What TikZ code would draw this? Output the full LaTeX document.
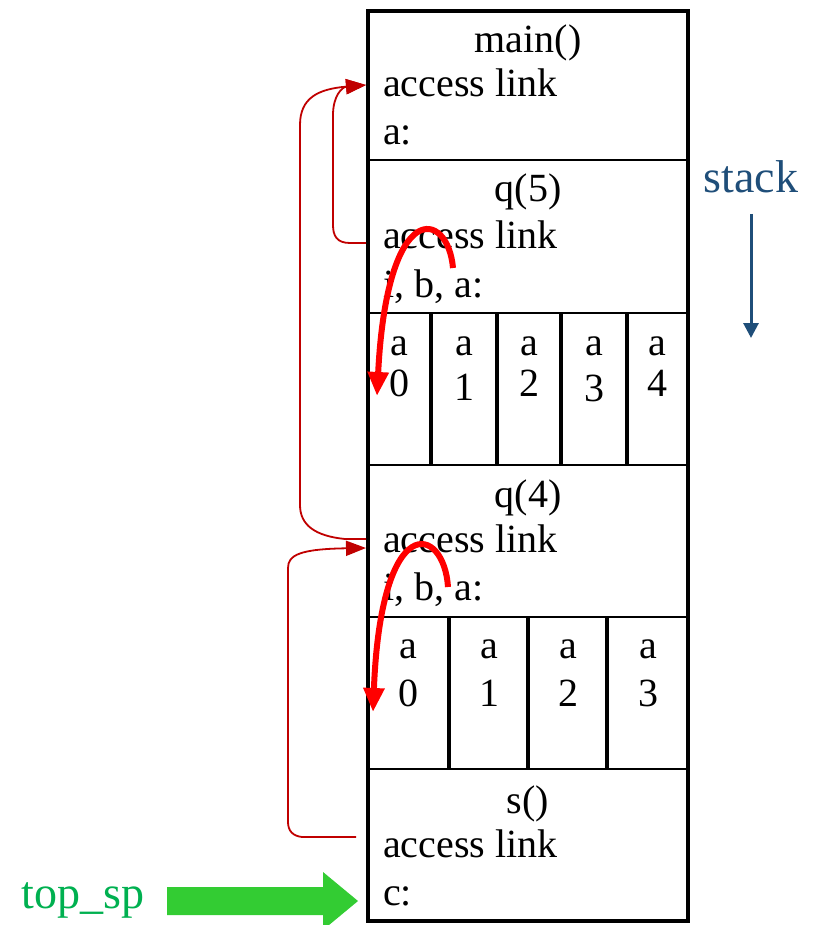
\documentclass[tikz,border=0pt]{standalone}
\usepackage{fontspec}
\setmainfont{Liberation Serif}
\usetikzlibrary{arrows.meta}
\definecolor{linkred}{RGB}{192,0,0}
\definecolor{hotred}{RGB}{255,0,0}
\definecolor{stackblue}{RGB}{31,78,121}
\definecolor{spgreen}{RGB}{0,176,80}
\definecolor{arrowgreen}{RGB}{51,204,51}
\begin{document}
\begin{tikzpicture}[x=1pt,y=-1pt,
  ltxt/.style={font=\fontsize{40}{40}\selectfont, inner sep=0pt, anchor=base west},
  ctxt/.style={font=\fontsize{40}{40}\selectfont, inner sep=0pt, anchor=base},
  frameline/.style={line width=4pt},
  rowline/.style={line width=2.5pt},
  cellline/.style={line width=4pt},
  linkarrow/.style={draw=linkred, line width=1.8pt,
    -{Triangle[length=20pt,width=15pt]}},
  bigred/.style={draw=hotred, line width=6pt,
    -{Triangle[length=24pt,width=20pt]}},
]
\useasboundingbox (0,0) rectangle (815,925);

% frame and dividers
\draw[frameline] (368,11) rectangle (688,921);
\foreach \yy in {160,313,465,617,769} \draw[rowline] (368,\yy) -- (688,\yy);
\foreach \xx in {431,497,561,627} \draw[cellline] (\xx,313) -- (\xx,465);
\foreach \xx in {449,528,607} \draw[cellline] (\xx,617) -- (\xx,769);

% main()
\node[ctxt] (mainT) at (528,53) {main()};
\node[ltxt] (mainAL) at (383,97) {access link};
\node[ltxt] (mainA) at (383,145) {a:};
% q(5)
\node[ctxt] (q5T) at (528,202) {q(5)};
\node[ltxt] (q5AL) at (383,248) {access link};
\node[ltxt] (q5V) at (383,297) {i, b, a:};
% array of q(5)
\node[ctxt] (a50) at (399,355) {a};
\node[ctxt] (a51) at (464,355) {a};
\node[ctxt] (a52) at (529,355) {a};
\node[ctxt] (a53) at (594,355) {a};
\node[ctxt] (a54) at (657,355) {a};
\node[ctxt] (d50) at (399,396) {0};
\node[ctxt] (d51) at (464,400) {1};
\node[ctxt] (d52) at (529,396) {2};
\node[ctxt] (d53) at (594,401) {3};
\node[ctxt] (d54) at (657,396) {4};
% q(4)
\node[ctxt] (q4T) at (528,507) {q(4)};
\node[ltxt] (q4AL) at (383,552) {access link};
\node[ltxt] (q4V) at (383,600) {i, b, a:};
% array of q(4)
\node[ctxt] (a40) at (408,658) {a};
\node[ctxt] (a41) at (489,658) {a};
\node[ctxt] (a42) at (568,658) {a};
\node[ctxt] (a43) at (648,658) {a};
\node[ctxt] (d40) at (408,706) {0};
\node[ctxt] (d41) at (489,706) {1};
\node[ctxt] (d42) at (568,706) {2};
\node[ctxt] (d43) at (648,706) {3};
% s()
\node[ctxt] (sT) at (528,813) {s()};
\node[ltxt] (sAL) at (383,857) {access link};
\node[ltxt] (sC) at (383,905) {c:};

% access link anchor points
\coordinate (mainIn) at (366,85);
\coordinate (q5Out) at (366,243);
\coordinate (q4In) at (366,548);
\coordinate (q4Out) at (366,539);
\coordinate (sOut) at (356,837);

% access link arrows
\draw[linkarrow] (q5Out) -- (350,243) .. controls (337,243) and (333,236) .. (333,225)
  -- (333,115) .. controls (333,96) and (342,87) .. (mainIn);
\draw[linkarrow] (q4Out) -- (345,539) .. controls (315,536) and (300,525) .. (300,505)
  -- (300,125) .. controls (300,98) and (318,89) .. (mainIn);
\draw[linkarrow] (sOut) -- (302,837) .. controls (293,836) and (288,831) .. (288,822)
  -- (288,568) .. controls (288,555) and (300,549) .. (q4In);

% big red arrows
\coordinate (r5s) at (453,268);
\coordinate (r5e) at (377,396);
\coordinate (r4s) at (448,587);
\coordinate (r4e) at (373,712);
\draw[bigred] (r5s) .. controls (448,210) and (387,196) .. (r5e);
\draw[bigred] (r4s) .. controls (444,525) and (381,508) .. (r4e);

% stack label and arrow
\node[font=\fontsize{46}{46}\selectfont, text=stackblue, inner sep=0pt, anchor=base] (stk) at (751,193) {stack};
\coordinate (stkEnd) at (751,338);
\draw[stackblue, line width=3pt, -{Triangle[length=15pt,width=15pt]}] (751,214) -- (stkEnd);

% top_sp
\node[font=\fontsize{46}{46}\selectfont, text=spgreen, inner sep=0pt, anchor=base] (tsp) at (83,908) {top\_sp};
\fill[arrowgreen] (167,887) -- (323,887) -- (323,872) -- (358,901) -- (323,930) -- (323,915) -- (167,915) -- cycle;
\end{tikzpicture}
\end{document}
